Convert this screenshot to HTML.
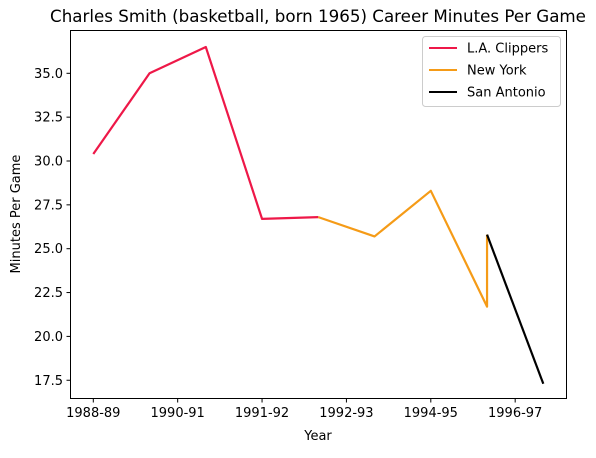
<!DOCTYPE html>
<html><head><meta charset="utf-8"><style>
body{margin:0;background:#fff;}
svg text{font-family:"DejaVu Sans","Liberation Sans",sans-serif;fill:#000;}
</style></head><body>
<svg width="596" height="453" xmlns="http://www.w3.org/2000/svg">
<rect width="596" height="453" fill="#fff"/>
<text x="318" y="22" font-size="16.7" text-anchor="middle">Charles Smith (basketball, born 1965) Career Minutes Per Game</text>
<g id="plot"></g>
<rect x="70.5" y="30.5" width="496" height="368" fill="none" stroke="#000" stroke-width="1"/>
<text x="318" y="440" font-size="13" text-anchor="middle">Year</text>
<text x="20" y="214" font-size="13" text-anchor="middle" transform="rotate(-90 20 214)">Minutes Per Game</text>
<g>
<rect x="422.5" y="36.5" width="138" height="70" rx="3" fill="#fff" stroke="#ccc"/>
<line x1="429" y1="48" x2="457" y2="48" stroke="#ee1848" stroke-width="2"/>
<text x="467" y="52.5" font-size="13">L.A. Clippers</text>
<line x1="429" y1="70" x2="457" y2="70" stroke="#f59b17" stroke-width="2"/>
<text x="467" y="74.5" font-size="13">New York</text>
<line x1="429" y1="92" x2="457" y2="92" stroke="#000" stroke-width="2"/>
<text x="467" y="96.5" font-size="13">San Antonio</text>
</g>
</svg>
<script>
const tickLabels=["1988-89","1990-91","1991-92","1992-93","1994-95","1996-97"];
const tickPositions=[0,1.5,3,4.5,6,7.5];
const yTicks=[17.5,20.0,22.5,25.0,27.5,30.0,32.5,35.0];
const clippersX=[0,1,2,3,4];
const clippersY=[30.4,35.0,36.5,26.7,26.8];
const nyX=[4,5,6,7,7];
const nyY=[26.8,25.7,28.3,21.7,25.8];
const saX=[7,8];
const saY=[25.8,17.3];
const NS="http://www.w3.org/2000/svg";
const g=document.getElementById('plot');
const sx=v=>93.3+v*56.25;
const sy=v=>73.3+(35-v)*17.54;
function mk(t,a){const e=document.createElementNS(NS,t);for(const k in a)e.setAttribute(k,a[k]);g.appendChild(e);return e;}
tickPositions.forEach((p,i)=>{
  const l=mk('line',{x1:sx(p),x2:sx(p),y1:398.5,y2:402.5,stroke:'#000'});
  
  
  const t=mk('text',{x:sx(p),y:417,'font-size':13,'text-anchor':'middle'});
  t.textContent=tickLabels[i];
  
  
});
yTicks.forEach(v=>{
  const l=mk('line',{x1:66.5,x2:70.5,y1:sy(v),y2:sy(v),stroke:'#000'});
  
  
  const t=mk('text',{x:63,y:sy(v)+4.5,'font-size':13,'text-anchor':'end'});
  t.textContent=v.toFixed(1);
  
  
});
function line(xs,ys,c,name){
  const p=mk('polyline',{points:xs.map((x,i)=>sx(x)+','+sy(ys[i])).join(' '),fill:'none',stroke:c,'stroke-width':2.2,'stroke-linejoin':'round'});
  
  
}
line(clippersX,clippersY,'#ee1848','line-clippers');
line(nyX,nyY,'#f59b17','line-new-york');
line(saX,saY,'#000','line-san-antonio');
</script>
</body></html>
